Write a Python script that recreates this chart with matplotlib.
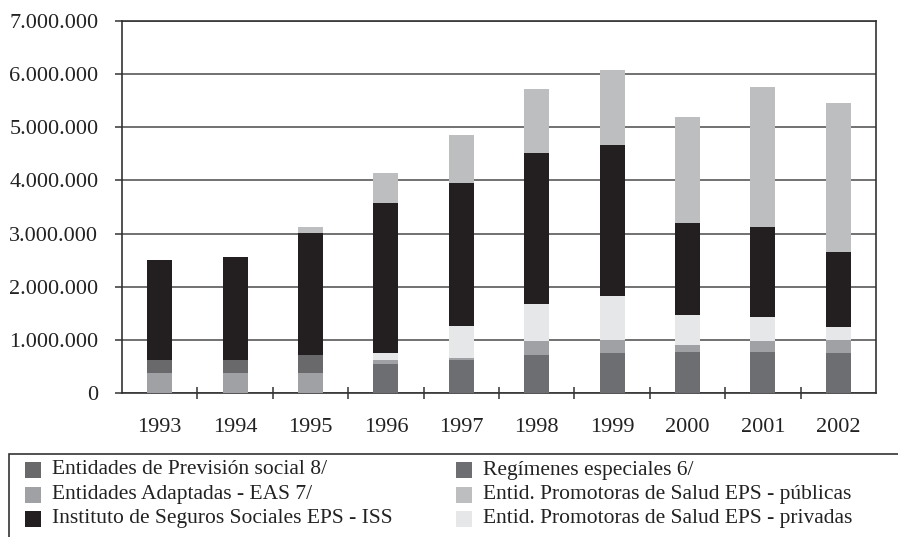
import numpy as np
import matplotlib.pyplot as plt
from matplotlib.patches import Rectangle

# Afiliados por tipo de entidad, 1993-2002
years = ['1993', '1994', '1995', '1996', '1997', '1998', '1999', '2000', '2001', '2002']

regimenes = [0, 0, 0, 544000, 620000, 715000, 752000, 770000, 770000, 752000]
adaptadas = [380000, 380000, 380000, 76000, 37000, 265000, 244000, 130000, 207000, 244000]
prevision = [240000, 240000, 335000, 0, 0, 0, 0, 0, 0, 0]
privadas = [0, 0, 0, 137000, 613000, 690000, 824000, 570000, 453000, 244000]
iss = [1880000, 1940000, 2305000, 2823000, 2690000, 2850000, 2850000, 1730000, 1690000, 1410000]
publicas = [0, 0, 100000, 560000, 900000, 1200000, 1410000, 2000000, 2640000, 2810000]

yticks = [0, 1000000, 2000000, 3000000, 4000000, 5000000, 6000000, 7000000]
ytick_labels = ['0', '1.000.000', '2.000.000', '3.000.000', '4.000.000',
                '5.000.000', '6.000.000', '7.000.000']

lbl_prev = 'Entidades de Previsión social 8/'
lbl_adapt = 'Entidades Adaptadas - EAS 7/'
lbl_iss = 'Instituto de Seguros Sociales EPS - ISS'
lbl_reg = 'Regímenes especiales 6/'
lbl_pub = 'Entid. Promotoras de Salud EPS - públicas'
lbl_priv = 'Entid. Promotoras de Salud EPS - privadas'

c_reg = '#6d6e71'
c_adapt = '#a0a1a4'
c_prev = '#69696c'
c_priv = '#e6e7e8'
c_iss = '#231f20'
c_pub = '#bcbec0'

plt.rcParams['font.family'] = ['Liberation Serif', 'DejaVu Serif']
txt_color = '#222222'

W, H = 898, 537
fig = plt.figure(figsize=(W / 100, H / 100), dpi=100)
ax = fig.add_axes([122 / W, 1 - 393 / H, (876 - 122) / W, (393 - 21) / H])

x = np.arange(len(years))
stack = [(regimenes, c_reg), (adaptadas, c_adapt), (prevision, c_prev),
         (privadas, c_priv), (iss, c_iss), (publicas, c_pub)]
bottom = np.zeros(len(years))
for vals, col in stack:
    vals = np.array(vals, dtype=float)
    ax.bar(x, vals, width=0.33, bottom=bottom, color=col, zorder=3, linewidth=0)
    bottom += vals

ax.set_xlim(-0.5, len(years) - 0.5)
ax.set_ylim(0, 7000000)
ax.set_yticks(yticks)
ax.set_yticklabels(ytick_labels, fontsize=16, color=txt_color)
ax.yaxis.grid(True, color='#4a4a4a', linewidth=1.1, zorder=0)
ax.set_axisbelow(True)

ax.set_xticks(x)
ax.set_xticklabels(years, fontsize=16, color=txt_color)
ax.tick_params(axis='x', which='major', length=0, pad=18)
ax.set_xticks(np.arange(0.5, len(years) - 0.5, 1), minor=True)
ax.tick_params(axis='x', which='minor', direction='inout', length=9, width=1.1, color='#333333')
ax.tick_params(axis='y', length=5, width=1.1, color='#333333', pad=12)

for s in ax.spines.values():
    s.set_color('#333333')
    s.set_linewidth(1.2)

# leyenda en recuadro inferior (borde inferior y derecho quedan fuera de la imagen)
fig.add_artist(Rectangle((9 / W, -0.05), 1.05, (H - 454) / H + 0.05, transform=fig.transFigure,
                         fill=False, edgecolor='#333333', linewidth=1.2))
legend_items = [(lbl_prev, c_prev), (lbl_adapt, c_adapt), (lbl_iss, c_iss),
                (lbl_reg, c_reg), (lbl_pub, c_pub), (lbl_priv, c_priv)]
col_x = [25, 456]
for i, (label, col) in enumerate(legend_items):
    cx = col_x[i // 3]
    cy = 470 + 24.5 * (i % 3)
    fig.add_artist(Rectangle((cx / W, 1 - (cy + 8) / H), 15.5 / W, 16 / H,
                             transform=fig.transFigure, facecolor=col, edgecolor='none'))
    fig.text((cx + 27) / W, 1 - cy / H, label, fontsize=15.5, color=txt_color,
             va='center', ha='left')

fig.savefig('out.png', dpi=100)
